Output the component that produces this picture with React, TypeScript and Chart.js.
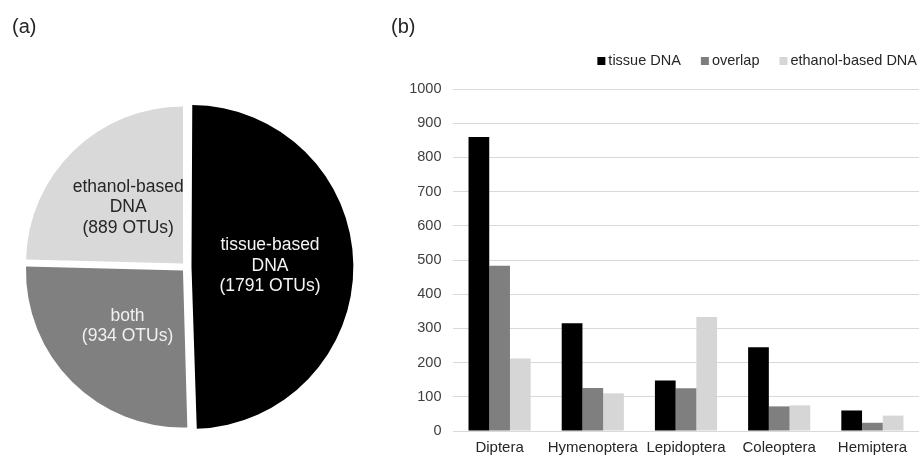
import { useEffect, useRef } from 'react';
import { Chart, registerables } from 'chart.js';

Chart.register(...registerables);

const FONT = '"Liberation Sans", Arial, sans-serif';

// ---- Panel (a): pie ----
const pieCategories = ['tissue-based\nDNA', 'both', 'ethanol-based\nDNA'];
const pieValues = [1791, 934, 889];
const pieColors = ['#000000', '#808080', '#d9d9d9'];
const pieTextColors = ['#f4f4f4', '#f0f0f0', '#262626'];

// ---- Panel (b): grouped bars ----
const barCategories = ['Diptera', 'Hymenoptera', 'Lepidoptera', 'Coleoptera', 'Hemiptera'];
const seriesLabels = ['tissue DNA', 'overlap', 'ethanol-based DNA'];
const tissueValues = [860, 315, 148, 245, 60];
const overlapValues = [483, 126, 125, 72, 24];
const ethanolValues = [212, 110, 333, 75, 45];
const seriesColors = ['#000000', '#7f7f7f', '#d6d6d6'];
const yMin = 0;
const yMax = 1000;
const yStep = 100;

const pieLabelPlugin = {
  id: 'pieLabels',
  afterDatasetsDraw(chart: any) {
    const ctx = chart.ctx;
    const meta = chart.getDatasetMeta(0);
    const ds = chart.data.datasets[0];
    meta.data.forEach((arc: any, i: number) => {
      const { x, y, startAngle, endAngle, outerRadius } = arc.getProps(
        ['x', 'y', 'startAngle', 'endAngle', 'outerRadius'],
        true
      );
      const mid = (startAngle + endAngle) / 2;
      const off = (arc.options.offset || 0) / 4;
      const r = outerRadius / 2 + off;
      const cx = x + Math.cos(mid) * r;
      const cy = y + Math.sin(mid) * r;
      const lines = [...String(chart.data.labels[i]).split('\n'), `(${ds.data[i]} OTUs)`];
      ctx.save();
      ctx.font = `17.5px ${FONT}`;
      ctx.fillStyle = pieTextColors[i];
      ctx.textAlign = 'center';
      ctx.textBaseline = 'middle';
      const lh = 20.5;
      lines.forEach((t, k) => {
        ctx.fillText(t, cx, cy + (k - (lines.length - 1) / 2) * lh);
      });
      ctx.restore();
    });
  },
};

const barLegendPlugin = {
  id: 'barLegend',
  afterDraw(chart: any) {
    const ctx = chart.ctx;
    const area = chart.chartArea;
    ctx.save();
    ctx.font = `14.5px ${FONT}`;
    ctx.textBaseline = 'middle';
    ctx.textAlign = 'left';
    const box = 8;
    const gap = 3;
    const spacing = 20;
    const items = chart.data.datasets.map((d: any) => ({
      text: d.label,
      color: d.backgroundColor,
      w: ctx.measureText(d.label).width,
    }));
    const total =
      items.reduce((s: number, it: any) => s + box + gap + it.w, 0) + spacing * (items.length - 1);
    let x = area.right - 2 - total;
    const y = area.top - 28;
    items.forEach((it: any) => {
      ctx.fillStyle = it.color;
      ctx.fillRect(x, y - box / 2, box, box);
      ctx.fillStyle = '#262626';
      ctx.fillText(it.text, x + box + gap, y);
      x += box + gap + it.w + spacing;
    });
    ctx.restore();
  },
};

function PieChart() {
  const ref = useRef<HTMLCanvasElement>(null);
  useEffect(() => {
    if (!ref.current) return;
    const chart = new Chart(ref.current, {
      type: 'pie',
      data: {
        labels: pieCategories,
        datasets: [
          {
            data: pieValues,
            backgroundColor: pieColors,
            borderWidth: 0,
            offset: 20,
            hoverOffset: 20,
          },
        ],
      },
      options: {
        responsive: false,
        animation: false,
        layout: { padding: { left: 12, right: 0, top: 0, bottom: 21 } },
        plugins: {
          legend: { display: false },
          tooltip: { enabled: false },
          title: {
            display: true,
            text: '(a)',
            align: 'start',
            color: '#262626',
            font: { family: FONT, size: 20, weight: 'normal', lineHeight: 1.2 },
            padding: { top: 15, bottom: 61 },
          },
        },
      },
      plugins: [pieLabelPlugin],
    });
    return () => chart.destroy();
  }, []);
  return <canvas ref={ref} width={361} height={455} style={{ width: 361, height: 455 }} />;
}

function BarChart() {
  const ref = useRef<HTMLCanvasElement>(null);
  useEffect(() => {
    if (!ref.current) return;
    const seriesData = [tissueValues, overlapValues, ethanolValues];
    const chart = new Chart(ref.current, {
      type: 'bar',
      data: {
        labels: barCategories,
        datasets: seriesLabels.map((label, i) => ({
          label,
          data: seriesData[i],
          backgroundColor: seriesColors[i],
          borderWidth: 0,
          categoryPercentage: 0.667,
          barPercentage: 1,
        })),
      },
      options: {
        responsive: false,
        animation: false,
        layout: { padding: { left: 12, right: 2, top: 0, bottom: 0 } },
        plugins: {
          legend: { display: false },
          tooltip: { enabled: false },
          title: {
            display: true,
            text: '(b)',
            align: 'start',
            color: '#262626',
            font: { family: FONT, size: 20, weight: 'normal', lineHeight: 1.2 },
            padding: { top: 15, bottom: 50 },
          },
        },
        scales: {
          x: {
            grid: { display: false, drawTicks: false },
            border: { display: false },
            ticks: {
              color: '#262626',
              font: { family: FONT, size: 15 },
              padding: 8,
              maxRotation: 0,
              minRotation: 0,
              autoSkip: false,
            },
            afterFit: (s: any) => {
              s.height = 24;
            },
          },
          y: {
            min: yMin,
            max: yMax,
            grid: { color: '#d9d9d9', drawTicks: false, lineWidth: 1 },
            border: { display: false },
            ticks: {
              stepSize: yStep,
              color: '#404040',
              font: { family: FONT, size: 14.5 },
              padding: 11.5,
              callback: (v: any) => String(v),
            },
            afterFit: (s: any) => {
              s.width = 62;
            },
          },
        },
      },
      plugins: [barLegendPlugin],
    });
    return () => chart.destroy();
  }, []);
  return <canvas ref={ref} width={542} height={455} style={{ width: 542, height: 455 }} />;
}

export default function App() {
  return (
    <div
      style={{
        position: 'absolute',
        left: 0,
        top: 0,
        width: 921,
        height: 455,
        background: '#ffffff',
        overflow: 'hidden',
      }}
    >
      <div style={{ position: 'absolute', left: 0, top: 0, width: 361, height: 455 }}>
        <PieChart />
      </div>
      <div style={{ position: 'absolute', left: 379, top: 0, width: 542, height: 455 }}>
        <BarChart />
      </div>
    </div>
  );
}
